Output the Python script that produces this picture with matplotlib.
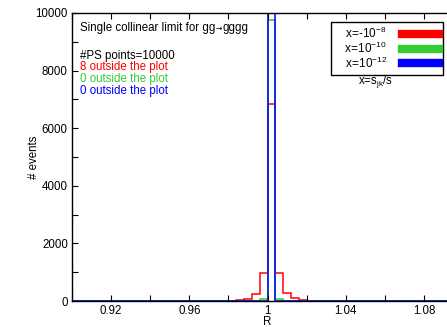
#!/usr/bin/env python3
"""
Single collinear limit check for gg -> gggg: histogram of R for three x values
"""

import numpy as np
import matplotlib
matplotlib.use('Agg')
import matplotlib.pyplot as plt
from matplotlib.lines import Line2D

plt.rcParams['font.family'] = ['Liberation Sans', 'DejaVu Sans']
plt.rcParams['font.size'] = 8.3
plt.rcParams['mathtext.fontset'] = 'custom'
plt.rcParams['mathtext.rm'] = 'Liberation Sans'
plt.rcParams['mathtext.it'] = 'Liberation Sans'

# Histogram binning
R_MIN = 0.9
R_MAX = 1.1
BIN_WIDTH = 0.004

# Non-empty bins: index of bin -> events
red_bins = [20, 21, 22, 23, 24, 25, 26, 27, 28, 29, 30]
red_counts = [10, 35, 80, 243, 962, 6830, 962, 267, 93, 35, 10]
green_bins = [24, 25, 26]
green_counts = [70, 9760, 60]
blue_bins = [25]
blue_counts = [10000]

labels = ['x=-10$^{-8}$', 'x=10$^{-10}$', 'x=10$^{-12}$']
colors = ['#ff0000', '#33cc33', '#0000ff']
outside = [8, 0, 0]
n_points = 10000

edges = np.arange(R_MIN, R_MAX + BIN_WIDTH / 2, BIN_WIDTH)


def fill_counts(idx, vals):
    h = np.zeros(len(edges) - 1)
    h[idx] = vals
    return h


fig = plt.figure(figsize=(4.47, 3.27), dpi=100)
ax = fig.add_axes([72 / 447, 1 - 301 / 327, 391 / 447, 288 / 327])

for idx, vals, c in zip([red_bins, green_bins, blue_bins],
                        [red_counts, green_counts, blue_counts], colors):
    ax.stairs(fill_counts(idx, vals), edges, color=c, linewidth=1.1, baseline=0)

ax.set_xlim(R_MIN, R_MAX)
ax.set_ylim(0, 10000)
ax.set_xticks([0.92, 0.96, 1.0, 1.04, 1.08])
ax.set_xticklabels(['0.92', '0.96', '1', '1.04', '1.08'])
ax.set_xticks(np.arange(0.90, 1.1, 0.02), minor=True)
ax.set_yticks(np.arange(0, 10001, 2000))
ax.set_yticks(np.arange(0, 10001, 1000), minor=True)
ax.tick_params(which='both', direction='in', top=True, right=True,
               length=4, width=0.8, pad=3)
for s in ax.spines.values():
    s.set_linewidth(1.0)

ax.set_xlabel('R', labelpad=-1)
ax.set_ylabel('# events', labelpad=-3)

# title line: "gg -> gggg" with a small arrow, as in the original
t1 = ax.text(0.02, 0.948, 'Single collinear limit for gg',
             transform=ax.transAxes, va='center')
fig.canvas.draw()
bb = t1.get_window_extent()
arr = fig.text(bb.x1 / fig.bbox.width + 0.001, bb.y0 / fig.bbox.height + 0.003,
               '\u2192', fontsize=5.5, va='bottom', family='DejaVu Sans')
fig.canvas.draw()
bb2 = arr.get_window_extent()
fig.text(bb2.x1 / fig.bbox.width + 0.001, (bb.y0 + bb.y1) / 2 / fig.bbox.height,
         'gggg', va='center')

ax.text(0.02, 0.851, f'#PS points={n_points}', transform=ax.transAxes, va='center')
for k, (n, c) in enumerate(zip(outside, colors)):
    ax.text(0.02, 0.8125 - k * 0.0415, f'{n} outside the plot', color=c,
            transform=ax.transAxes, va='center')

# legend: labels padded on the left so the box is as wide as the original
handles = [Line2D([], [], color=c, linewidth=6) for c in colors]
pad_labels = ['  ' + labels[0], '   ' + labels[1], '   ' + labels[2]]
leg = fig.legend(handles, pad_labels, loc='upper right',
                 bbox_to_anchor=(443 / 447, 1 - 22 / 327), borderaxespad=0,
                 markerfirst=False, fancybox=False, framealpha=1,
                 edgecolor='black', handlelength=3.1, handletextpad=1.3,
                 labelspacing=-0.05, borderpad=0.35, fontsize=8.5)
leg.get_frame().set_linewidth(1.0)
fig.text(375 / 447, 1 - 82 / 327, 'x=s$_{\\mathrm{jk}}$/s', ha='center', va='center')

fig.savefig('out.png', dpi=100)
